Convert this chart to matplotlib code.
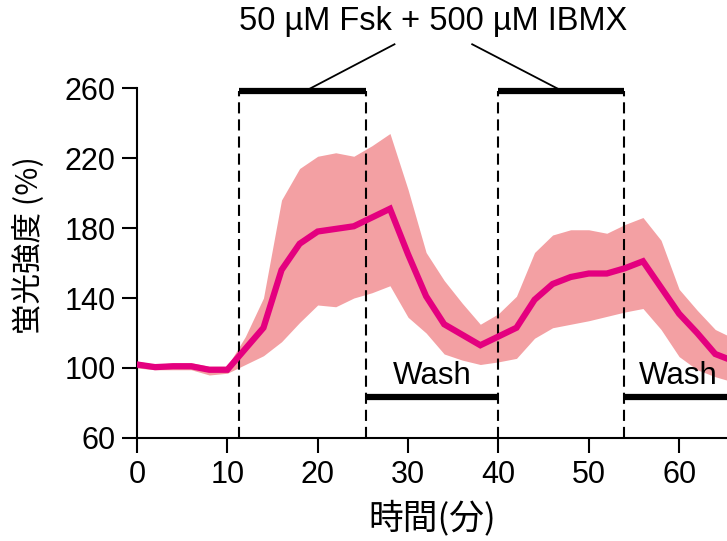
import numpy as np
import matplotlib
matplotlib.use("Agg")
import matplotlib.pyplot as plt

plt.rcParams['font.family'] = ['Liberation Sans', 'Noto Sans CJK JP', 'DejaVu Sans']
plt.rcParams['lines.scale_dashes'] = False

# time (min) and fluorescence intensity (%)
t = [0, 2, 4, 6, 8, 10, 12, 14, 16, 18, 20, 22, 24, 26, 28, 30, 32, 34, 36, 38,
     40, 42, 44, 46, 48, 50, 52, 54, 56, 58, 60, 62, 64, 66]
mean = [102, 100.5, 101, 101, 99, 99, 111, 123, 156, 171, 178, 179.5, 181, 186, 191,
        165, 141, 125, 119, 113, 118, 123, 139, 148, 152, 154, 154, 157, 161, 146,
        131, 120, 108, 104]
upper = [104, 102, 103, 103, 101, 101, 118, 140, 196, 214, 221, 223, 221, 227, 234,
         202, 166, 150, 137, 125, 131, 141, 166, 176, 179, 179, 177, 182, 186, 173,
         145, 133, 122, 117]
lower = [100, 99, 99, 99, 96, 97, 102, 107, 115, 126, 136, 135, 140, 143, 147,
         129, 120, 108, 104.5, 102, 103.5, 105.5, 117, 123, 125, 127, 129.5, 132, 134,
         122, 106.5, 99, 95, 92]

drug_periods = [(11.3, 25.3), (40, 53.9)]
wash_periods = [(25.3, 40), (53.9, 66)]
drug_label = "50 µM Fsk + 500 µM IBMX"

fig = plt.figure(figsize=(7.27, 5.41), dpi=100)
ax = fig.add_axes([0.1884, 0.1904, 0.8116, 0.6469])

ax.fill_between(t, lower, upper, color='#f3a0a3', lw=0, zorder=1)
ax.plot(t, mean, color='#e4007f', lw=4.5, zorder=4, solid_joinstyle='miter')

for a, b in drug_periods:
    ax.plot([a, b], [258.3, 258.3], color='black', lw=4.5, solid_capstyle='butt',
            clip_on=False, zorder=5)
    for x in (a, b):
        ax.plot([x, x], [60, 258.3], color='black', lw=1.5, ls=(0, (8, 4.3)),
                clip_on=False, zorder=3)

for a, b in wash_periods:
    ax.plot([a, b], [83.5, 83.5], color='black', lw=4.5, solid_capstyle='butt', zorder=5)
    ax.text((a + b) / 2 if b < 60 else 59.9, 91, "Wash", fontsize=22.5, ha='center',
            va='baseline', zorder=6)

# annotation lines from the label to the two bars
ax.plot([28.5, 18.9], [285, 259], color='black', lw=1.3, clip_on=False)
ax.plot([37.1, 46.8], [285, 259], color='black', lw=1.3, clip_on=False)
ax.text(32.8, 289, drug_label, fontsize=23.5, ha='center', va='bottom')

ax.set_xlim(0, 65.3)
ax.set_ylim(60, 260)
ax.set_xticks(range(0, 70, 10))
ax.set_yticks(range(60, 261, 40))
ax.spines['top'].set_visible(False)
ax.spines['right'].set_visible(False)
for s in ('left', 'bottom'):
    ax.spines[s].set_linewidth(1.5)
ax.tick_params(direction='out', length=10.5, width=1.5, labelsize=22, pad=5)

ax.set_xlabel("時間(分)", fontsize=25, family=['Noto Sans CJK JP', 'DejaVu Sans'], labelpad=8)
ax.set_ylabel("蛍光強度 (%)", fontsize=22, family=['Noto Sans CJK JP', 'DejaVu Sans'])
ax.yaxis.set_label_coords(-0.155, 0.55)

fig.savefig("out.png", dpi=100)
